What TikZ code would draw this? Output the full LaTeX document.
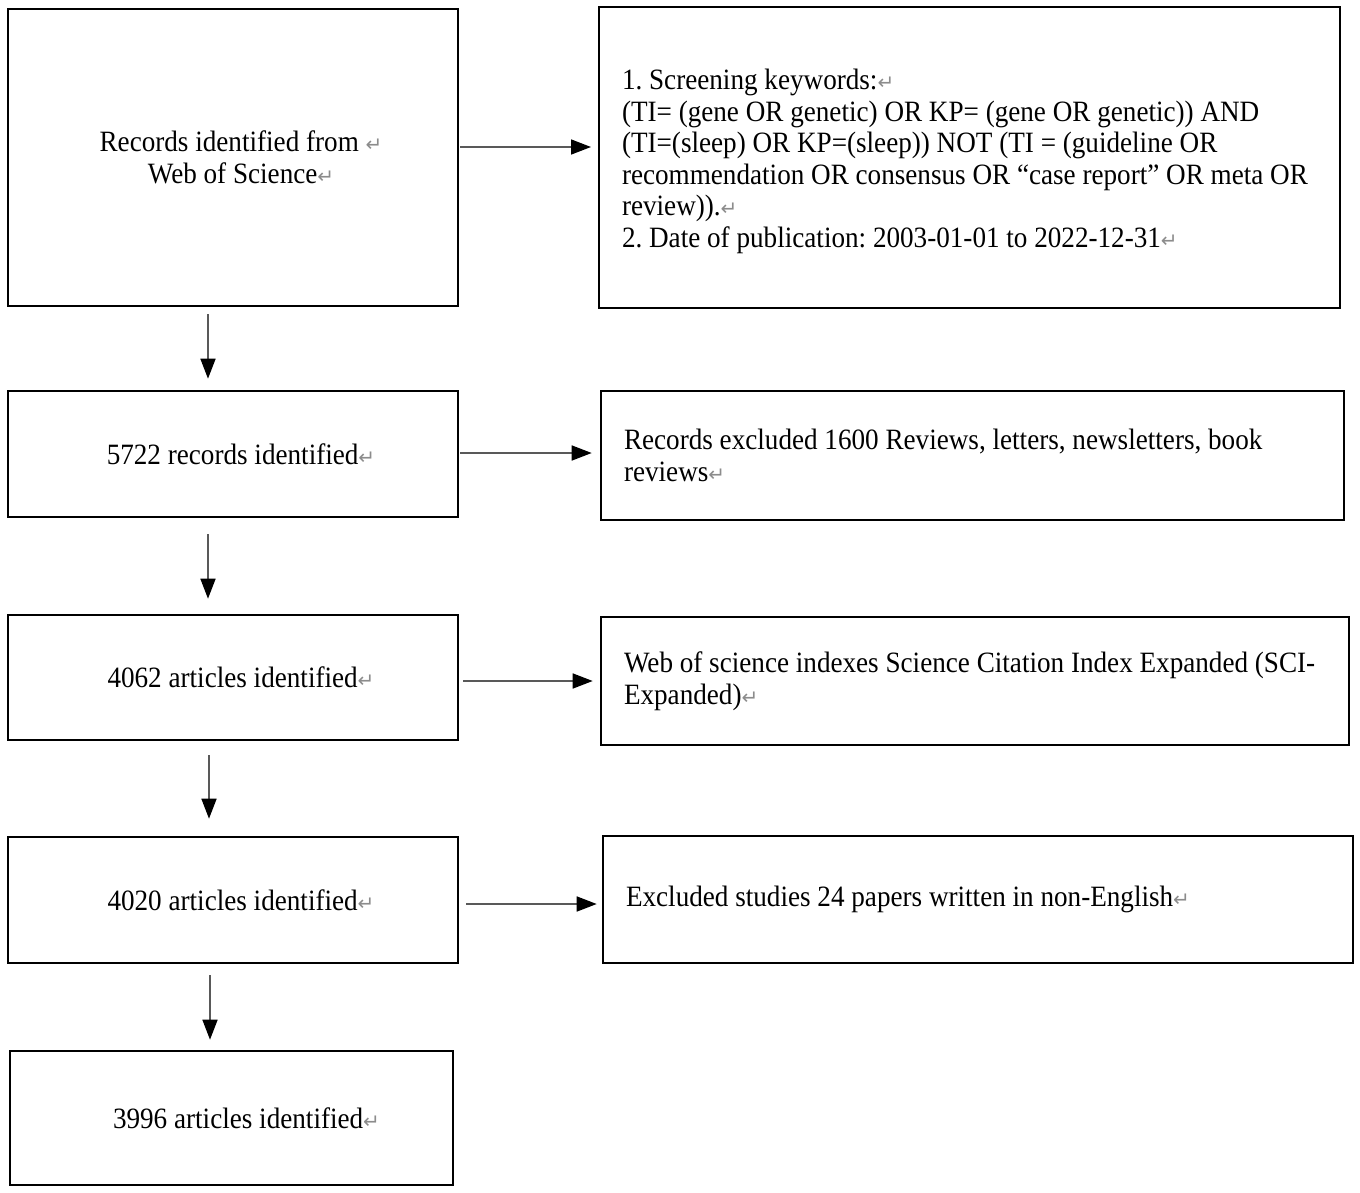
\documentclass[tikz,border=0pt]{standalone}
\usepackage{fontspec}
\setmainfont[FakeStretch=0.92,WordSpace=1.0]{Liberation Serif}
\newfontfamily\djv{DejaVu Sans}
\usetikzlibrary{arrows.meta}
\newcommand\ret{{\djv\color{black!45}\fontsize{20}{20}\selectfont ↵}}
\newcommand\oneline[1]{\mbox{\spaceskip=0pt\xspaceskip=0pt\relax #1}}
\newcommand\ind{\hspace*{16pt}}
\begin{document}
\begin{tikzpicture}[x=1pt,y=-1pt,
  box/.style 2 args={draw=black,line width=2.6pt,inner sep=0pt,minimum width=#1,minimum height=#2,
    font=\fontsize{29.5}{31.6}\selectfont\frenchspacing},
  lbox/.style 2 args={box={#1}{#2},align=center},
  rbox/.style 2 args={box={#1}{#2},align=left,text width=#1-46pt},
  conn/.style={draw=black!65,line width=1.6pt,-{Triangle[length=20pt,width=15pt,color=black]}}]
\useasboundingbox (0,0) rectangle (1360,1193);
\fill[white] (0,0) rectangle (1360,1193);
\node[lbox={450pt}{297pt}] (s1) at (233,157.5) {\ind Records identified from \ret\\\ind Web of Science\ret};
\node[rbox={741pt}{301pt},draw=none,outer sep=0pt] (r1) at (969.5,161.5) {\oneline{1. Screening keywords:\ret}\\
\oneline{(TI= (gene OR genetic) OR KP= (gene OR genetic)) AND}\\
\oneline{(TI=(sleep) OR KP=(sleep)) NOT (TI = (guideline OR}\\
\oneline{recommendation OR consensus OR “case report” OR meta OR}\\
\oneline{review)).\ret}\\
\oneline{2. Date of publication: 2003-01-01 to 2022-12-31\ret}};
\draw[line width=2.6pt] (r1.north west) ++(0,-4) rectangle ([yshift=4pt]r1.south east);
\node[lbox={450pt}{126pt}] (s2) at (233,454) {\ind 5722 records identified\ret};
\node[rbox={743pt}{129pt}] (r2) at (972.5,455.5) {\oneline{Records excluded 1600 Reviews, letters, newsletters, book}\\\oneline{reviews\ret}};
\node[lbox={450pt}{125pt}] (s3) at (233,677.5) {\ind 4062 articles identified\ret};
\node[rbox={748pt}{128pt}] (r3) at (975,681) {\oneline{Web of science indexes Science Citation Index Expanded (SCI-}\\\oneline{Expanded)\ret}};
\node[lbox={450pt}{126pt}] (s4) at (233,900) {\ind 4020 articles identified\ret};
\node[rbox={750pt}{127pt}] (r4) at (978,899.5) {\oneline{Excluded studies 24 papers written in non-English\ret}};
\node[lbox={443pt}{134pt}] (s5) at (231.5,1118) {\hspace*{30pt}3996 articles identified\ret};
% horizontal connectors
\coordinate (h1) at (460,147);
\draw[conn,shorten >=8pt] (h1) -- (h1 -| r1.west);
\coordinate (h2) at (460,453);
\draw[conn,shorten >=8pt] (h2) -- (h2 -| r2.west);
\coordinate (h3) at (463,681);
\draw[conn,shorten >=7pt] (h3) -- (h3 -| r3.west);
\coordinate (h4) at (466,904);
\draw[conn,shorten >=5pt] (h4) -- (h4 -| r4.west);
% vertical connectors
\coordinate (d1) at (208,314);
\draw[conn,shorten >=11pt] (d1) -- (d1 |- s2.north);
\coordinate (d2) at (208,534);
\draw[conn,shorten >=15pt] (d2) -- (d2 |- s3.north);
\coordinate (d3) at (209,755);
\draw[conn,shorten >=17pt] (d3) -- (d3 |- s4.north);
\coordinate (d4) at (210,975);
\draw[conn,shorten >=10pt] (d4) -- (d4 |- s5.north);
\end{tikzpicture}
\end{document}
